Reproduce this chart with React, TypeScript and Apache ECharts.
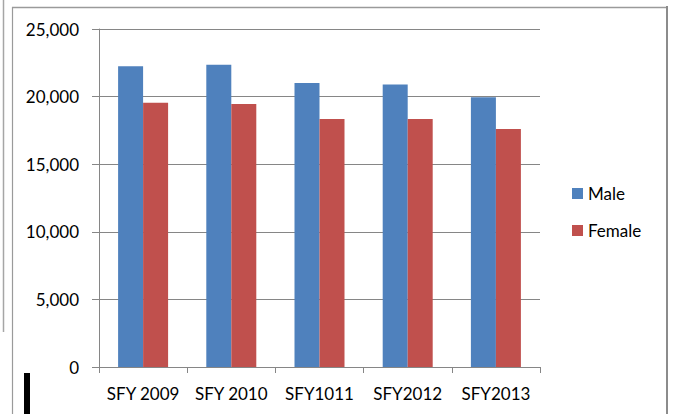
import React, { useEffect, useRef } from "react";
import * as echarts from "echarts";

const categories = ["SFY 2009", "SFY 2010", "SFY1011", "SFY2012", "SFY2013"];
const maleValues = [22250, 22350, 21000, 20900, 19950];
const femaleValues = [19550, 19450, 18350, 18350, 17600];
const seriesNames = ["Male", "Female"];

export default function App() {
  const ref = useRef<HTMLDivElement>(null);
  useEffect(() => {
    if (!ref.current) return;
    const chart = echarts.init(ref.current, null, { renderer: "svg" });
    const font = "Lato, 'Open Sans', sans-serif";
    chart.setOption({
      animation: false,
      backgroundColor: "#ffffff",
      grid: { left: 99, right: 133, top: 29, bottom: 47, containLabel: false },
      legend: {
        orient: "vertical",
        left: 567,
        top: 180,
        itemWidth: 11,
        itemHeight: 11,
        itemGap: 20,
        icon: "rect",
        data: seriesNames,
        textStyle: { fontFamily: font, fontSize: 17, color: "#000" },
      },
      xAxis: {
        type: "category",
        data: categories,
        boundaryGap: true,
        axisLine: { show: true, lineStyle: { color: "#868686", width: 1 } },
        axisTick: { show: true, length: 6, lineStyle: { color: "#868686" } },
        axisLabel: { fontFamily: font, fontSize: 17, color: "#000", margin: 18, interval: 0 },
        splitLine: { show: false },
      },
      yAxis: {
        type: "value",
        min: 0,
        max: 25000,
        interval: 5000,
        axisLine: { show: true, lineStyle: { color: "#868686", width: 1 } },
        axisTick: { show: true, length: 7, lineStyle: { color: "#868686" } },
        axisLabel: {
          fontFamily: font,
          fontSize: 17,
          color: "#000",
          margin: 20,
          formatter: (v: number) => v.toLocaleString("en-US"),
        },
        splitLine: { show: true, lineStyle: { color: "#868686", width: 1 } },
      },
      series: [
        {
          name: seriesNames[0],
          type: "bar",
          data: maleValues,
          barWidth: 25,
          barGap: "0%",
          itemStyle: { color: "#4F81BD" },
        },
        {
          name: seriesNames[1],
          type: "bar",
          data: femaleValues,
          barWidth: 25,
          barGap: "0%",
          itemStyle: { color: "#C0504D" },
        },
      ],
      graphic: [
        { type: "line", shape: { x1: 3.5, y1: 0, x2: 3.5, y2: 332 }, style: { stroke: "#a6a6a6", lineWidth: 1.5 } },
        { type: "line", shape: { x1: 12, y1: 7.5, x2: 667, y2: 7.5 }, style: { stroke: "#9a9a9a", lineWidth: 1.5 } },
        { type: "line", shape: { x1: 12.5, y1: 7, x2: 12.5, y2: 414 }, style: { stroke: "#9a9a9a", lineWidth: 1.2 } },
        { type: "line", shape: { x1: 667, y1: 6, x2: 667, y2: 414 }, style: { stroke: "#8c8c8c", lineWidth: 2 } },
        { type: "rect", shape: { x: 24, y: 373, width: 6, height: 41 }, style: { fill: "#000" } },
      ],
    });
    return () => chart.dispose();
  }, []);
  return (
    <div
      ref={ref}
      style={{ position: "fixed", left: 0, top: 0, width: 673, height: 414 }}
    />
  );
}
